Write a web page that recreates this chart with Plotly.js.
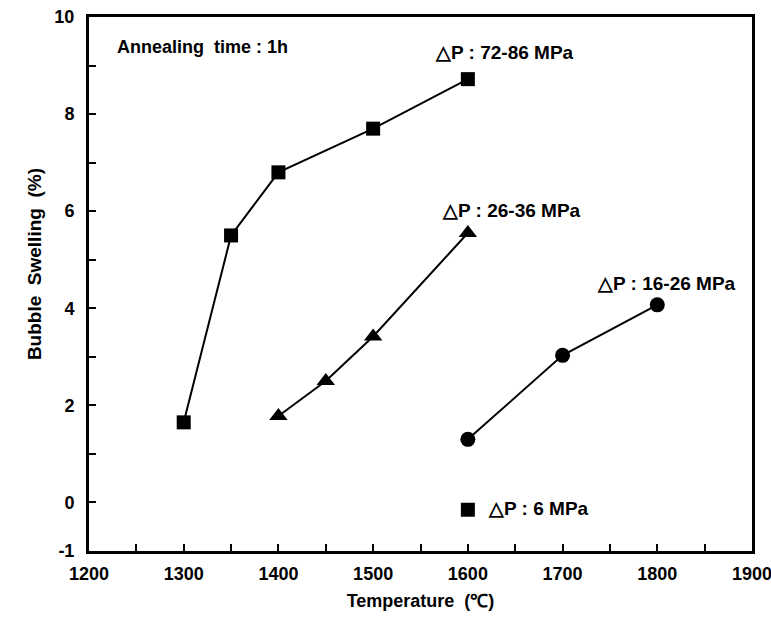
<!DOCTYPE html>
<html>
<head>
<meta charset="utf-8">
<script src="https://cdn.plot.ly/plotly-3.0.1.min.js"></script>
<style>html,body{margin:0;padding:0;background:#fff;}#chart{width:771px;height:617px;}</style>
</head>
<body>
<div id="chart"></div>
<script>
// Data
const tempHigh = [1300, 1350, 1400, 1500, 1600];
const swellHigh = [1.65, 5.5, 6.8, 7.7, 8.72];   // ΔP 72-86 MPa (squares)
const tempMid = [1400, 1450, 1500, 1600];
const swellMid = [1.78, 2.5, 3.42, 5.55];        // ΔP 26-36 MPa (triangles)
const tempLow = [1600, 1700, 1800];
const swellLow = [1.3, 3.03, 4.07];              // ΔP 16-26 MPa (circles)
const tempSingle = [1600];
const swellSingle = [-0.15];                     // ΔP 6 MPa (single square)

const xTickVals = [1200,1250,1300,1350,1400,1450,1500,1550,1600,1650,1700,1750,1800,1850,1900];
const xTickText = ['1200','','1300','','1400','','1500','','1600','','1700','','1800','','1900'];
const yTickVals = [-1,0,1,2,3,4,5,6,7,8,9,10];
const yTickText = ['-1','0','','2','','4','','6','','8','','10'];

const labels = ['Annealing  time : 1h', '\u25B3P : 72-86 MPa', '\u25B3P : 26-36 MPa', '\u25B3P : 16-26 MPa', '\u25B3P : 6 MPa'];
const xTitle = 'Temperature  (\u2103)';
const yTitle = 'Bubble  Swelling  (%)';

const fam = 'Liberation Sans, Arial, sans-serif';
const line = {color: '#000', width: 2};
const bold = s => s ? '<b>' + s + '</b>' : '';

const traces = [
  {x: tempHigh, y: swellHigh, mode: 'lines+markers', line: line,
   marker: {symbol: 'square', size: 14, color: '#000'}},
  {x: tempMid, y: swellMid, mode: 'lines+markers', line: line,
   marker: {symbol: 'triangle-up', size: 16, color: '#000'}},
  {x: tempLow, y: swellLow, mode: 'lines+markers', line: line,
   marker: {symbol: 'circle', size: 15, color: '#000'}},
  {x: tempSingle, y: swellSingle, mode: 'markers',
   marker: {symbol: 'square', size: 14, color: '#000'}}
];

const annFont = {family: fam, size: 19, color: '#000'};
const layout = {
  width: 771, height: 617,
  margin: {l: 89, r: 19, t: 17, b: 66},
  paper_bgcolor: '#fff', plot_bgcolor: '#fff',
  showlegend: false,
  font: {family: fam, size: 16, color: '#000'},
  xaxis: {
    range: [1200, 1900], tickmode: 'array', tickvals: xTickVals, ticktext: xTickText.map(bold),
    ticks: 'inside', ticklen: 7, tickwidth: 2, tickcolor: '#000',
    showline: true, linewidth: 3, linecolor: '#000', mirror: true,
    showgrid: false, zeroline: false, ticklabelstandoff: 4, ticklabeloverflow: 'allow',
    tickfont: {family: fam, size: 18, color: '#000'},
    title: {text: bold(xTitle), font: {family: fam, size: 18, color: '#000'}, standoff: 12}
  },
  yaxis: {
    range: [-1, 10], tickmode: 'array', tickvals: yTickVals, ticktext: yTickText.map(bold),
    ticks: 'inside', ticklen: 7, tickwidth: 2, tickcolor: '#000',
    showline: true, linewidth: 3, linecolor: '#000', mirror: true,
    showgrid: false, zeroline: false, ticklabelstandoff: 8,
    tickfont: {family: fam, size: 18, color: '#000'}
  },
  annotations: [
    {x: -0.102, y: 0.537, xref: 'paper', yref: 'paper', text: bold(yTitle), textangle: -90, showarrow: false,
     font: {family: fam, size: 19, color: '#000'}},
    {x: 1227, y: 9.38, xref: 'x', yref: 'y', text: bold(labels[0]), showarrow: false, xanchor: 'left', font: {family: fam, size: 18, color: '#000'}},
    {x: 1563, y: 9.26, xref: 'x', yref: 'y', text: bold(labels[1]), showarrow: false, xanchor: 'left', font: annFont},
    {x: 1571, y: 6.02, xref: 'x', yref: 'y', text: bold(labels[2]), showarrow: false, xanchor: 'left', font: annFont},
    {x: 1734, y: 4.52, xref: 'x', yref: 'y', text: bold(labels[3]), showarrow: false, xanchor: 'left', font: annFont},
    {x: 1619, y: -0.12, xref: 'x', yref: 'y', text: bold(labels[4]), showarrow: false, xanchor: 'left', font: annFont}
  ]
};

Plotly.newPlot('chart', traces, layout, {displayModeBar: false, staticPlot: true});
</script>
</body>
</html>
